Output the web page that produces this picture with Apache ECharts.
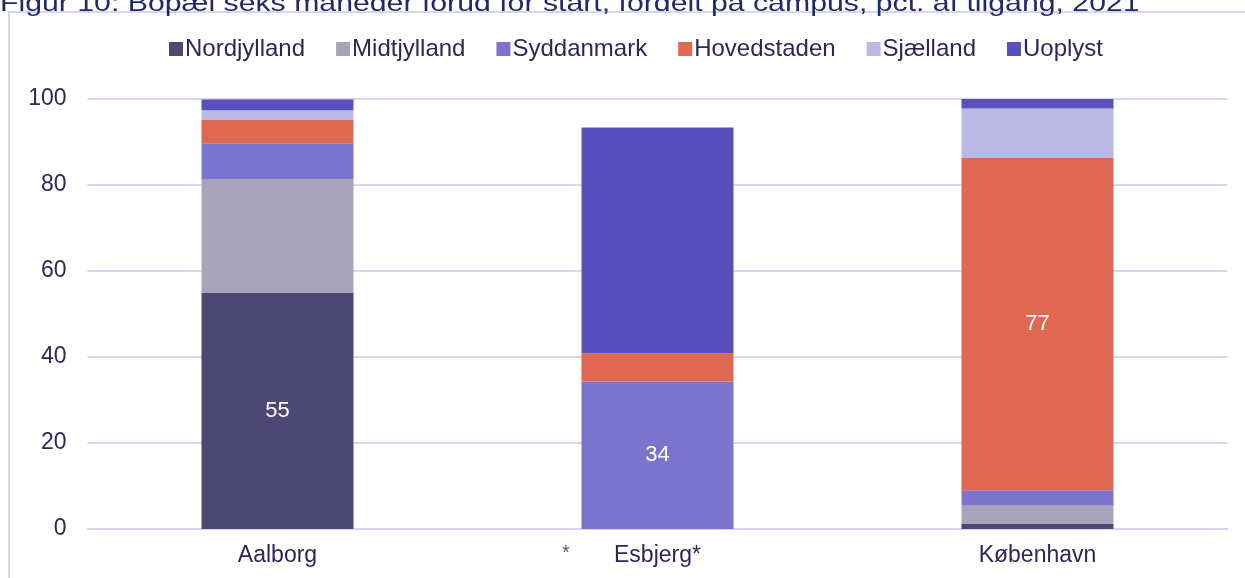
<!DOCTYPE html>
<html>
<head>
<meta charset="utf-8">
<script src="https://cdn.jsdelivr.net/npm/echarts@6/dist/echarts.min.js"></script>
<style>
  html, body { margin: 0; padding: 0; background: #ffffff; }
  #chart { width: 1245px; height: 578px; }
</style>
</head>
<body>
<div id="chart"></div>
<script>
// Campus categories and axis ticks
const campuses = ['Aalborg', 'Esbjerg*', 'København'];
const yTicks = [0, 20, 40, 60, 80, 100];

// Share of intake (pct.) by region of residence six months before start
const regions = ['Nordjylland', 'Midtjylland', 'Syddanmark', 'Hovedstaden', 'Sjælland', 'Uoplyst'];
const nordjylland = [55, 0, 1.3];
const midtjylland = [26.4, 0, 4.3];
const syddanmark  = [8.3, 34.3, 3.4];
const hovedstaden = [5.4, 6.6, 77.3];
const sjaelland   = [2.3, 0, 11.5];
const uoplyst     = [2.5, 52.5, 2.2];

// Segments that carry a value label: [region index, campus index]
const labelled = [[0, 0], [2, 1], [3, 2]];

const titleText = 'Figur 10: Bopæl seks måneder forud for start, fordelt på campus, pct. af tilgang, 2021';

const values = [nordjylland, midtjylland, syddanmark, hovedstaden, sjaelland, uoplyst];
const colors = ['#4e4874', '#a7a4ba', '#7b73cc', '#e06751', '#bbb8e4', '#5a50bd'];
const textColor = '#2b2856';
const lineColor = '#d8d5f1';
const font = 'Liberation Sans, Arial, sans-serif';

const series = regions.map((name, r) => ({
  name: name,
  type: 'bar',
  stack: 'total',
  barWidth: '40%',
  itemStyle: { color: colors[r] },
  emphasis: { disabled: true },
  data: values[r].map((v, c) => {
    const show = labelled.some(([lr, lc]) => lr === r && lc === c);
    return show
      ? { value: v, label: { show: true, position: 'inside', color: '#ffffff', fontSize: 22, fontFamily: font,
          formatter: p => Math.round(p.value) } }
      : v;
  })
}));

const chart = echarts.init(document.getElementById('chart'), null, { renderer: 'canvas' });
chart.setOption({
  animation: false,
  backgroundColor: '#ffffff',
  graphic: [
    {
      // chart frame
      type: 'rect',
      z: -10,
      shape: { x: 9, y: 12, width: 1300, height: 700 },
      style: { fill: 'none', stroke: lineColor, lineWidth: 2 }
    },
    {
      // figure caption, widely tracked
      type: 'text',
      x: 0,
      y: -8,
      scaleX: 1.26,
      style: { text: titleText, fill: '#1f2a6b', font: '24px ' + font, textVerticalAlign: 'top' }
    },
    {
      type: 'text',
      left: 562,
      top: 543,
      style: { text: '*', fill: '#5c6070', font: '20px ' + font }
    }
  ],
  legend: {
    data: regions,
    left: 164,
    top: 32,
    itemWidth: 14,
    itemHeight: 14,
    itemGap: 31,
    icon: 'rect',
    selectedMode: false,
    textStyle: { color: textColor, fontSize: 24, fontFamily: font, padding: [0, 0, 0, -3] }
  },
  grid: { left: 87.5, right: 17.5, top: 99, bottom: 49, containLabel: false },
  xAxis: {
    type: 'category',
    data: campuses,
    axisLine: { lineStyle: { color: lineColor, width: 2 } },
    axisTick: { show: false },
    axisLabel: { color: textColor, fontSize: 23, fontFamily: font, margin: 15 }
  },
  yAxis: {
    type: 'value',
    min: yTicks[0],
    max: yTicks[yTicks.length - 1],
    interval: yTicks[1] - yTicks[0],
    axisLine: { show: false },
    axisTick: { show: false },
    splitLine: { lineStyle: { color: lineColor, width: 2 } },
    axisLabel: { color: textColor, fontSize: 23, fontFamily: font, margin: 21 }
  },
  series: series
});
</script>
</body>
</html>
